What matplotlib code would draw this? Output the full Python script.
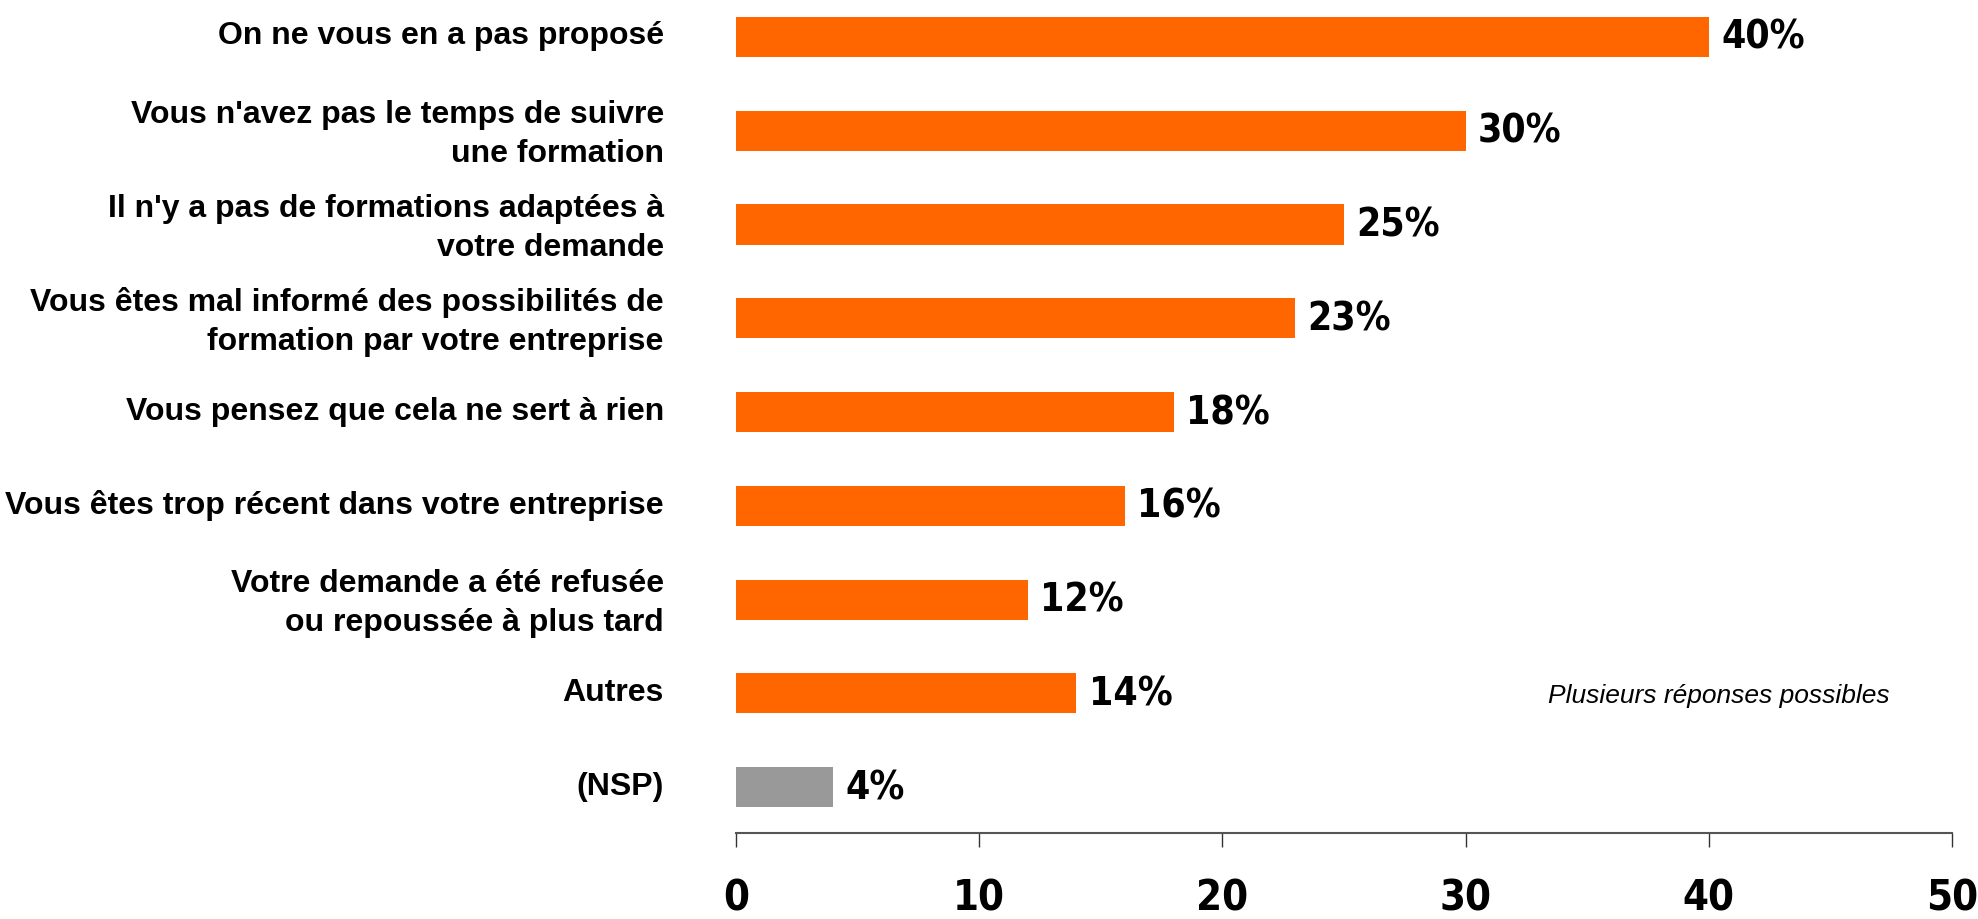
import matplotlib
matplotlib.use("Agg")
import matplotlib.pyplot as plt
import matplotlib.transforms as mtransforms
import numpy as np
from matplotlib import font_manager

# categories, top to bottom
categories = [
    "On ne vous en a pas proposé",
    "Vous n'avez pas le temps de suivre\nune formation",
    "Il n'y a pas de formations adaptées à\nvotre demande",
    "Vous êtes mal informé des possibilités de\nformation par votre entreprise",
    "Vous pensez que cela ne sert à rien",
    "Vous êtes trop récent dans votre entreprise",
    "Votre demande a été refusée\nou repoussée à plus tard",
    "Autres",
    "(NSP)",
]
values = [40, 30, 25, 23, 18, 16, 12, 14, 4]
value_labels = ["40%", "30%", "25%", "23%", "18%", "16%", "12%", "14%", "4%"]
xticks = [0, 10, 20, 30, 40, 50]
note = "Plusieurs réponses possibles"

ORANGE = "#FF6600"
GREY = "#999999"
colors = [ORANGE] * 8 + [GREY]

# look for a narrow bold face for the numbers (reference uses Arial Narrow Bold)
def find_narrow():
    for f in font_manager.fontManager.ttflist:
        condensed = ("Narrow" in f.name or "Condensed" in f.name
                     or f.stretch in ("condensed", "semi-condensed")
                     or "Condensed" in f.fname)
        bold = f.weight in ("bold", 700, 600, "semibold") or "Bold" in f.fname
        if condensed and bold and "Oblique" not in f.fname and "Italic" not in f.fname:
            return font_manager.FontProperties(fname=f.fname)
    return font_manager.FontProperties(family="Liberation Sans", weight="bold")

narrow = find_narrow()

plt.rcParams["font.family"] = ["Liberation Sans", "DejaVu Sans"]

fig = plt.figure(figsize=(19.78, 9.2), dpi=100)
ax = fig.add_axes([736 / 1978, 1 - 834 / 920, (1952 - 736) / 1978, 834 / 920])

y = np.arange(len(categories))
ax.barh(y, values, height=0.427, color=colors)

for yi, v, lab in zip(y, values, value_labels):
    ax.text(v + 0.5, yi, lab, va="center", ha="left", fontproperties=narrow,
            fontsize=28, color="black")

ax.set_xlim(0, 50)
ax.set_ylim(8.49, -0.405)

ax.set_yticks(y)
ax.set_yticklabels(categories, fontsize=23, fontweight="bold", color="black",
                   linespacing=1.4)
ax.tick_params(axis="y", length=0, pad=52)
# labels sit a little above the bar centres in the original
shift = mtransforms.ScaledTranslation(0, 5 / 100, fig.dpi_scale_trans)
for t in ax.get_yticklabels():
    t.set_transform(t.get_transform() + shift)

ax.set_xticks(xticks)
ax.set_xticklabels([str(t) for t in xticks])
for t in ax.get_xticklabels():
    t.set_fontproperties(narrow)
    t.set_fontsize(30)
ax.tick_params(axis="x", direction="out", length=10, width=1, color="#333333",
               pad=21)

for s in ["top", "right", "left"]:
    ax.spines[s].set_visible(False)
ax.spines["bottom"].set_color("#555555")
ax.spines["bottom"].set_linewidth(1.5)

ax.text(1890 / 1978, 1 - 696 / 920, note, transform=fig.transFigure, ha="right",
        va="center", fontsize=19, style="italic", color="black")

fig.savefig("out.png", dpi=100, facecolor="white")
